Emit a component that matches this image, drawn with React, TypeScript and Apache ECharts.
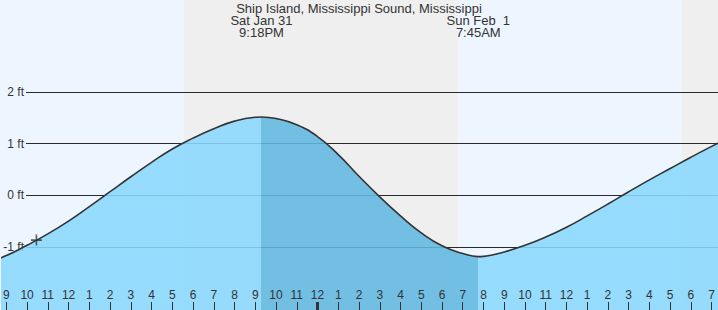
import React, { useEffect, useRef } from "react";
import * as echarts from "echarts";

// Time in hours since Sat Jan 31 00:00; water level in feet
const HOURS = [8, 9, 10, 11, 12, 13, 14, 15, 16, 17, 18, 19, 20, 21, 21.3, 22, 23, 24, 25, 26, 27, 28, 29, 30, 31, 31.75, 32, 33, 34, 35, 36, 37, 38, 39, 40, 41, 42, 43, 44];
const LEVELS_FT = [-1.32, -1.17, -0.97, -0.75, -0.5, -0.22, 0.07, 0.36, 0.64, 0.9, 1.11, 1.29, 1.44, 1.515, 1.52, 1.49, 1.37, 1.14, 0.79, 0.37, -0.03, -0.4, -0.73, -0.98, -1.13, -1.19, -1.185, -1.1, -0.97, -0.81, -0.62, -0.4, -0.17, 0.07, 0.3, 0.52, 0.74, 0.95, 1.15];
const TICK_HOURS = [9, 10, 11, 12, 13, 14, 15, 16, 17, 18, 19, 20, 21, 22, 23, 24, 25, 26, 27, 28, 29, 30, 31, 32, 33, 34, 35, 36, 37, 38, 39, 40, 41, 42, 43];
const MIDNIGHT_HOURS = [24];
const NIGHTS = [
  [17.56, 30.75],
  [41.55, 54.75],
];
const HIGH_TIME = 21.3;
const LOW_TIME = 31.75;
const EVENT_DAYS = ["Sat Jan 31", "Sun Feb  1"];
const EVENT_TIMES = ["9:18PM", "7:45AM"];
const EVENT_HOURS = [HIGH_TIME, LOW_TIME];
const MARKER = [[10.45, -0.87]];
const Y_TICK_MIN = -1;
const Y_TICK_MAX = 2;
const TITLE = "Ship Island, Mississippi Sound, Mississippi";

const X_MIN = 8.79;
const X_MAX = 43.28;
const Y_MIN = -2.227;
const Y_MAX = 3.792;

const FONT = '"Liberation Sans", Arial, sans-serif';
const TEXT = "#333";

export default function App() {
  const ref = useRef<HTMLDivElement>(null);
  useEffect(() => {
    if (!ref.current) return;
    const chart = echarts.init(ref.current, null, { renderer: "svg" });
    const series = HOURS.map((h, i) => [h, LEVELS_FT[i]]);
    chart.setOption({
      animation: false,
      backgroundColor: "#EDF6FE",
      grid: [
        { left: 0, right: 0, top: 0, bottom: 0 },
        { left: 26, right: 0, top: 92, bottom: 63 },
      ],
      xAxis: [
        {
          type: "value",
          gridIndex: 0,
          min: X_MIN,
          max: X_MAX,
          position: "bottom",
          z: 6,
          axisLine: { show: false, onZero: false },
          splitLine: { show: false },
          axisTick: {
            show: true,
            inside: true,
            length: 8,
            customValues: TICK_HOURS,
            lineStyle: { color: TEXT, width: 1 },
          },
          axisLabel: {
            show: true,
            inside: true,
            margin: 9,
            customValues: TICK_HOURS,
            color: TEXT,
            fontSize: 12,
            fontFamily: FONT,
            formatter: (v: number) => String(v % 12 === 0 ? 12 : v % 12),
          },
        },
        {
          type: "value",
          gridIndex: 0,
          min: X_MIN,
          max: X_MAX,
          position: "bottom",
          z: 6,
          axisLine: { show: false, onZero: false },
          splitLine: { show: false },
          axisTick: {
            show: true,
            inside: true,
            length: 8,
            customValues: MIDNIGHT_HOURS,
            lineStyle: { color: TEXT, width: 3 },
          },
          axisLabel: { show: false },
        },
        {
          type: "value",
          gridIndex: 1,
          min: X_MIN,
          max: X_MAX,
          show: false,
          axisLine: { show: false, onZero: false },
          axisTick: { show: false },
          axisLabel: { show: false },
          splitLine: { show: false },
        },
      ],
      yAxis: [
        {
          type: "value",
          gridIndex: 0,
          min: Y_MIN,
          max: Y_MAX,
          show: false,
          axisLine: { show: false, onZero: false },
          splitLine: { show: false },
        },
        {
          type: "value",
          gridIndex: 1,
          min: Y_TICK_MIN,
          max: Y_TICK_MAX,
          interval: 1,
          z: 2,
          axisLine: { show: false, onZero: false },
          axisTick: { show: false },
          splitLine: { show: true, lineStyle: { color: "#2a2a2a", width: 1 } },
          axisLabel: {
            margin: 2,
            color: TEXT,
            fontSize: 12,
            fontFamily: FONT,
            formatter: "{value} ft",
          },
        },
      ],
      visualMap: {
        type: "piecewise",
        show: false,
        dimension: 0,
        seriesIndex: 1,
        pieces: [
          { lt: HIGH_TIME, color: "#8AD8FD" },
          { gte: HIGH_TIME, lt: LOW_TIME, color: "#60B8E1" },
          { gte: LOW_TIME, color: "#8AD8FD" },
        ],
      },
      series: [
        {
          type: "custom",
          z: 1,
          xAxisIndex: 0,
          yAxisIndex: 0,
          silent: true,
          data: NIGHTS,
          encode: { x: [0, 1] },
          renderItem: (_p: any, api: any) => {
            const s = api.coord([api.value(0), Y_MAX]);
            const e = api.coord([api.value(1), Y_MIN]);
            return {
              type: "rect",
              shape: { x: s[0], y: s[1], width: e[0] - s[0], height: e[1] - s[1] },
              style: { fill: "#EFEFEF" },
            };
          },
        },
        {
          type: "line",
          z: 3,
          xAxisIndex: 0,
          yAxisIndex: 0,
          data: series,
          smooth: 0.5,
          symbol: "none",
          lineStyle: { width: 0 },
          areaStyle: { opacity: 0.88, origin: "start" },
        },
        {
          type: "line",
          z: 4,
          xAxisIndex: 0,
          yAxisIndex: 0,
          data: series,
          smooth: 0.5,
          symbol: "none",
          lineStyle: { color: "#333", width: 1.6 },
        },
        {
          type: "scatter",
          z: 5,
          xAxisIndex: 0,
          yAxisIndex: 0,
          data: MARKER,
          symbol: "path://M4.3,0H5.7V4.3H10V5.7H5.7V10H4.3V5.7H0V4.3H4.3Z",
          symbolSize: 11,
          itemStyle: { color: "#333" },
        },
      ],
    });
    const elements: any[] = [
      {
        type: "text",
        x: 359,
        y: 8,
        z: 10,
        style: { text: TITLE, fill: TEXT, fontSize: 13, lineHeight: 12, fontFamily: FONT, align: "center", verticalAlign: "middle" },
      },
    ];
    EVENT_HOURS.forEach((t, i) => {
      const px = chart.convertToPixel({ xAxisIndex: 0 }, t) as number;
      elements.push({
        type: "text",
        x: px,
        y: 14,
        z: 10,
        style: {
          text: EVENT_DAYS[i] + "\n" + EVENT_TIMES[i],
          fill: TEXT,
          fontSize: 13,
          lineHeight: 12.5,
          fontFamily: FONT,
          align: "center",
          verticalAlign: "top",
        },
      });
    });
    chart.setOption({ graphic: { elements } });
    return () => chart.dispose();
  }, []);
  return (
    <div
      ref={ref}
      style={{ position: "absolute", left: 0, top: 0, width: 718, height: 310 }}
    />
  );
}
